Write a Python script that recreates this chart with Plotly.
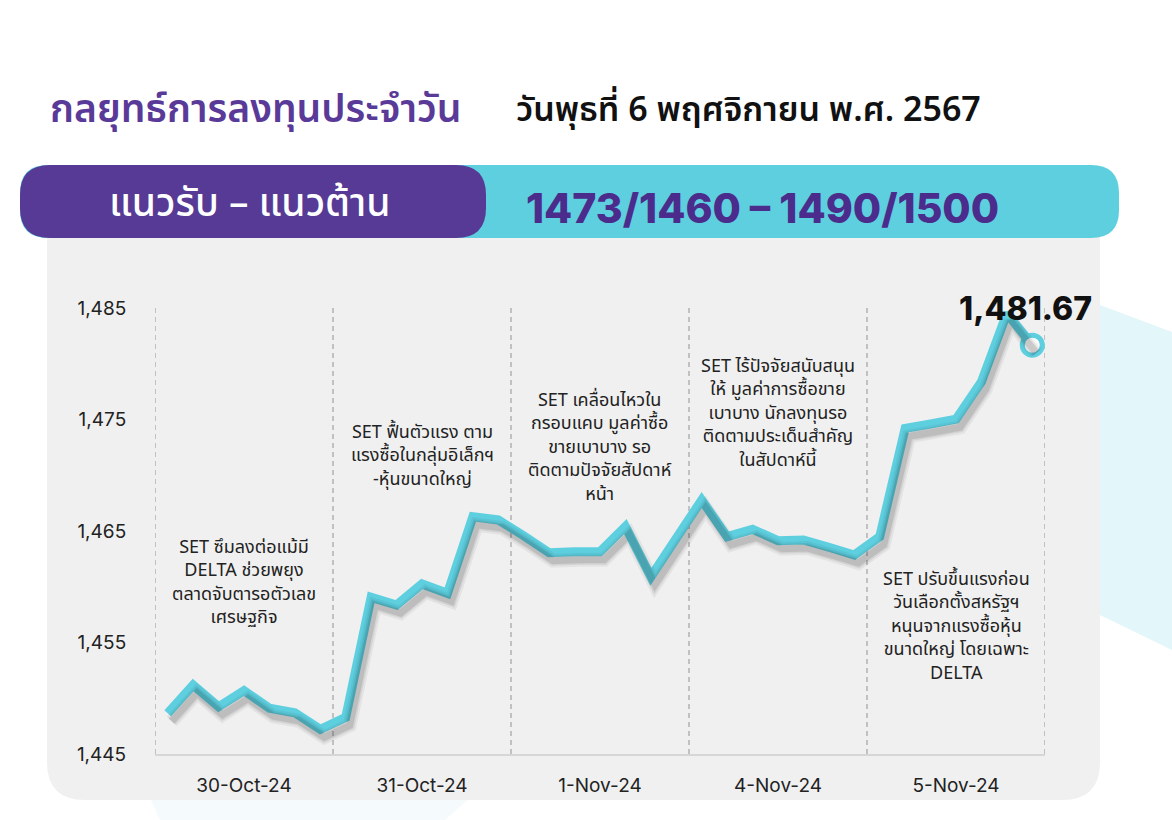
import plotly.graph_objects as go

# ---------------- data ----------------
days = ["30-Oct-24", "31-Oct-24", "1-Nov-24", "4-Nov-24", "5-Nov-24"]
points_per_day = 7
set_index = [
    1448.65, 1451.19, 1449.24, 1450.68, 1449.10, 1448.70, 1447.22,
    1448.29, 1459.05, 1458.36, 1460.25, 1459.41, 1466.28, 1465.99,
    1464.58, 1463.05, 1463.14, 1463.14, 1465.39, 1460.90, 1464.34,
    1467.78, 1464.49, 1465.15, 1464.13, 1464.19, 1463.54, 1462.85,
    1464.49, 1474.21, 1474.60, 1475.02, 1478.39, 1484.52, 1481.67,
]
y_ticks = [1445, 1455, 1465, 1475, 1485]
notes = [
    "SET ซึมลงต่อแม้มี<br>DELTA ช่วยพยุง<br>ตลาดจับตารอตัวเลข<br>เศรษฐกิจ",
    "SET ฟื้นตัวแรง ตาม<br>แรงซื้อในกลุ่มอิเล็กฯ<br>-หุ้นขนาดใหญ่",
    "SET เคลื่อนไหวใน<br>กรอบแคบ มูลค่าซื้อ<br>ขายเบาบาง รอ<br>ติดตามปัจจัยสัปดาห์<br>หน้า",
    "SET ไร้ปัจจัยสนับสนุน<br>ให้ มูลค่าการซื้อขาย<br>เบาบาง นักลงทุนรอ<br>ติดตามประเด็นสำคัญ<br>ในสัปดาห์นี้",
    "SET ปรับขึ้นแรงก่อน<br>วันเลือกตั้งสหรัฐฯ<br>หนุนจากแรงซื้อหุ้น<br>ขนาดใหญ่ โดยเฉพาะ<br>DELTA",
]
title_text = "กลยุทธ์การลงทุนประจำวัน"
date_text = "วันพุธที่ 6 พฤศจิกายน พ.ศ. 2567"
band_label = "แนวรับ – แนวต้าน"
band_value = "1473/1460 – 1490/1500"

# ---------------- styling ----------------
W, H = 1172, 820
CYAN = "#5ecfdf"
PURPLE = "#563a96"
PANEL = "#f0f0f0"
TXT = "#222222"
THAI = "Noto Sans Thai, Noto Sans, Inter, sans-serif"
NUM = "Inter, Noto Sans, sans-serif"

def X(px):
    return px / W

def Y(py):
    return 1 - py / H

def rrect(x0, y0, x1, y1, r):
    rx, ry = r / W, r / H
    a, b, c, d = X(x0), Y(y1), X(x1), Y(y0)
    return (f"M{a+rx},{d} L{c-rx},{d} Q{c},{d} {c},{d-ry} L{c},{b+ry} Q{c},{b} {c-rx},{b} "
            f"L{a+rx},{b} Q{a},{b} {a},{b+ry} L{a},{d-ry} Q{a},{d} {a+rx},{d} Z")

def poly(pts):
    return "M" + " L".join(f"{X(px)},{Y(py)}" for px, py in pts) + " Z"

n_days = len(days)
xs = [i + 0.5 for i in range(len(set_index))]
x_max = n_days * points_per_day

plot_l, plot_r, plot_t, plot_b = 155, 1045, 308, 754
dom_x = [X(plot_l), X(plot_r)]
dom_y = [Y(plot_b), Y(plot_t)]
sdx, sdy = 4, 8
dom_x2 = [X(plot_l + sdx), X(plot_r + sdx)]
dom_y2 = [Y(plot_b + sdy), Y(plot_t + sdy)]

fig = go.Figure()

# soft shadow: same series drawn on a pixel-offset overlay axis
for w, op in [(14, 0.05), (10, 0.07), (7, 0.10)]:
    fig.add_trace(go.Scatter(x=xs, y=set_index, mode="lines", xaxis="x2", yaxis="y2",
                             line=dict(color=f"rgba(0,0,0,{op})", width=w),
                             hoverinfo="skip", showlegend=False))

fig.add_trace(go.Scatter(x=xs, y=set_index, mode="lines",
                         line=dict(color=CYAN, width=9), showlegend=False, cliponaxis=False))
fig.add_trace(go.Scatter(x=[xs[-1]], y=[set_index[-1]], mode="markers",
                         marker=dict(size=20, color="white", line=dict(color=CYAN, width=5)),
                         showlegend=False, cliponaxis=False))

shapes = []
shapes.append(dict(type="path", xref="paper", yref="paper", layer="below",
                   path=poly([(1000, 290), (1100, 305), (1172, 332), (1172, 650), (1100, 615), (1000, 600)]),
                   fillcolor="#e3f6f9", line=dict(width=0)))
shapes.append(dict(type="path", xref="paper", yref="paper", layer="below",
                   path=poly([(150, 798), (470, 798), (445, 820), (160, 820)]),
                   fillcolor="#f5fbfc", line=dict(width=0)))
shapes.append(dict(type="path", xref="paper", yref="paper", layer="below",
                   path=rrect(47, 200, 1100, 800, 38), fillcolor=PANEL, line=dict(width=0)))
shapes.append(dict(type="path", xref="paper", yref="paper", layer="below",
                   path=rrect(20, 165, 1119, 238, 28), fillcolor=CYAN, line=dict(width=0)))
shapes.append(dict(type="path", xref="paper", yref="paper", layer="below",
                   path=rrect(20, 165, 486, 238, 30), fillcolor=PURPLE, line=dict(width=0)))
for k in range(n_days + 1):
    shapes.append(dict(type="line", xref="x", yref="y", layer="below",
                       x0=k * points_per_day, x1=k * points_per_day, y0=y_ticks[0], y1=y_ticks[-1],
                       line=dict(color="#a8a8a8", width=1.3, dash="5px,4px")))

annotations = [
    dict(text=title_text, xref="paper", yref="paper", x=X(48), y=Y(110), xanchor="left", yanchor="middle",
         showarrow=False, font=dict(family=THAI, size=39, color="#5a3a98", weight=600)),
    dict(text=date_text, xref="paper", yref="paper", x=X(514), y=Y(110), xanchor="left", yanchor="middle",
         showarrow=False, font=dict(family=THAI, size=34, color="#111111", weight=600)),
    dict(text=band_label, xref="paper", yref="paper", x=X(250), y=Y(204), xanchor="center", yanchor="middle",
         showarrow=False, font=dict(family=THAI, size=39, color="white", weight=500)),
    dict(text=band_value, xref="paper", yref="paper", x=X(762), y=Y(208), xanchor="center", yanchor="middle",
         showarrow=False, font=dict(family=NUM, size=41, color="#4b2c8c", weight=800)),
    dict(text=f"{set_index[-1]:,.2f}", xref="x", yref="y", x=xs[-1], y=set_index[-1],
         xanchor="center", yanchor="middle", xshift=-7, yshift=37, showarrow=False,
         font=dict(family=NUM, size=32, color="#111111", weight=800)),
]
note_pos = [(3.5, 1460.4), (10.5, 1471.7), (17.5, 1472.5), (24.5, 1475.5), (31.5, 1456.4)]
for txt, (nx, ny) in zip(notes, note_pos):
    annotations.append(dict(text=txt, xref="x", yref="y", x=nx, y=ny, xanchor="center", yanchor="middle",
                            align="center", showarrow=False,
                            font=dict(family=THAI, size=18, color=TXT)))

fig.update_layout(
    width=W, height=H,
    margin=dict(l=0, r=0, t=0, b=0, pad=0, autoexpand=False),
    paper_bgcolor="white", plot_bgcolor="rgba(0,0,0,0)",
    shapes=shapes, annotations=annotations, showlegend=False,
    xaxis=dict(domain=dom_x, range=[0, x_max], automargin=False,
               tickvals=[d * points_per_day + points_per_day / 2 for d in range(n_days)],
               ticktext=days, showgrid=False, zeroline=False, showline=True, linecolor="#d6d6d6", linewidth=2,
               ticks="outside", ticklen=13, tickcolor="rgba(0,0,0,0)",
               tickfont=dict(family=NUM, size=19, color=TXT), fixedrange=True),
    yaxis=dict(domain=dom_y, range=[y_ticks[0], y_ticks[-1]], tickvals=y_ticks, automargin=False,
               ticktext=[f"{v:,}" for v in y_ticks], showgrid=False, zeroline=False, showline=False,
               ticks="outside", ticklen=24, tickcolor="rgba(0,0,0,0)",
               tickfont=dict(family=NUM, size=19, color=TXT), fixedrange=True),
    xaxis2=dict(domain=dom_x2, range=[0, x_max], visible=False, anchor="y2", fixedrange=True, automargin=False),
    yaxis2=dict(domain=dom_y2, range=[y_ticks[0], y_ticks[-1]], visible=False, anchor="x2", fixedrange=True,
                automargin=False),
)

fig.write_html("out.html", post_script="document.body.style.margin='0';",
               config={"displayModeBar": False})
